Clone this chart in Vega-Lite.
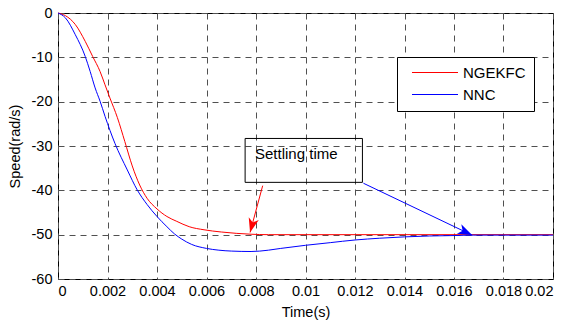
{
  "$schema": "https://vega.github.io/schema/vega-lite/v6.json",
  "width": 495,
  "height": 266,
  "autosize": "none",
  "padding": {"left": 58, "top": 13, "right": 15, "bottom": 43},
  "background": "white",
  "config": {
    "font": "Liberation Sans",
    "view": {"stroke": "black", "strokeWidth": 1},
    "axis": {
      "domain": false,
      "ticks": false,
      "grid": true,
      "gridColor": "#505050",
      "gridDash": [6, 5],
      "gridWidth": 1,
      "gridOpacity": 1,
      "labelFont": "Liberation Sans",
      "labelFontSize": 14.5,
      "labelColor": "black",
      "titleFont": "Liberation Sans",
      "titleFontSize": 14.5,
      "titleFontWeight": "normal",
      "titleColor": "black"
    }
  },
  "datasets": {
    "curves": [
      {"t": 0, "speed": 0, "series": "NGEKFC"},
      {"t": 0.0003, "speed": -0.6, "series": "NGEKFC"},
      {"t": 0.0007, "speed": -2.6, "series": "NGEKFC"},
      {"t": 0.0011, "speed": -6.4, "series": "NGEKFC"},
      {"t": 0.0014, "speed": -9.8, "series": "NGEKFC"},
      {"t": 0.0017, "speed": -13.2, "series": "NGEKFC"},
      {"t": 0.0019, "speed": -16.2, "series": "NGEKFC"},
      {"t": 0.0021, "speed": -19.2, "series": "NGEKFC"},
      {"t": 0.0024, "speed": -23.6, "series": "NGEKFC"},
      {"t": 0.0027, "speed": -29.0, "series": "NGEKFC"},
      {"t": 0.003, "speed": -34.5, "series": "NGEKFC"},
      {"t": 0.0033, "speed": -38.8, "series": "NGEKFC"},
      {"t": 0.0036, "speed": -41.8, "series": "NGEKFC"},
      {"t": 0.004, "speed": -44.2, "series": "NGEKFC"},
      {"t": 0.0044, "speed": -45.9, "series": "NGEKFC"},
      {"t": 0.0048, "speed": -47.0, "series": "NGEKFC"},
      {"t": 0.0053, "speed": -48.2, "series": "NGEKFC"},
      {"t": 0.0059, "speed": -48.9, "series": "NGEKFC"},
      {"t": 0.0066, "speed": -49.4, "series": "NGEKFC"},
      {"t": 0.0072, "speed": -49.7, "series": "NGEKFC"},
      {"t": 0.0078, "speed": -49.9, "series": "NGEKFC"},
      {"t": 0.0085, "speed": -50.0, "series": "NGEKFC"},
      {"t": 0.02, "speed": -50.0, "series": "NGEKFC"},
      {"t": 0, "speed": 0, "series": "NNC"},
      {"t": 0.0003, "speed": -1.1, "series": "NNC"},
      {"t": 0.0007, "speed": -4.9, "series": "NNC"},
      {"t": 0.0011, "speed": -9.8, "series": "NNC"},
      {"t": 0.0013, "speed": -13.2, "series": "NNC"},
      {"t": 0.0015, "speed": -16.9, "series": "NNC"},
      {"t": 0.0017, "speed": -19.9, "series": "NNC"},
      {"t": 0.0019, "speed": -23.3, "series": "NNC"},
      {"t": 0.0023, "speed": -29.4, "series": "NNC"},
      {"t": 0.0028, "speed": -35.4, "series": "NNC"},
      {"t": 0.0032, "speed": -39.9, "series": "NNC"},
      {"t": 0.0036, "speed": -43.2, "series": "NNC"},
      {"t": 0.004, "speed": -45.9, "series": "NNC"},
      {"t": 0.0044, "speed": -48.2, "series": "NNC"},
      {"t": 0.0047, "speed": -49.8, "series": "NNC"},
      {"t": 0.005, "speed": -51.0, "series": "NNC"},
      {"t": 0.0054, "speed": -52.2, "series": "NNC"},
      {"t": 0.006, "speed": -53.1, "series": "NNC"},
      {"t": 0.0065, "speed": -53.5, "series": "NNC"},
      {"t": 0.007, "speed": -53.7, "series": "NNC"},
      {"t": 0.0078, "speed": -53.8, "series": "NNC"},
      {"t": 0.0085, "speed": -53.5, "series": "NNC"},
      {"t": 0.009, "speed": -53.1, "series": "NNC"},
      {"t": 0.01, "speed": -52.4, "series": "NNC"},
      {"t": 0.011, "speed": -51.8, "series": "NNC"},
      {"t": 0.012, "speed": -51.2, "series": "NNC"},
      {"t": 0.013, "speed": -50.8, "series": "NNC"},
      {"t": 0.014, "speed": -50.5, "series": "NNC"},
      {"t": 0.015, "speed": -50.3, "series": "NNC"},
      {"t": 0.016, "speed": -50.2, "series": "NNC"},
      {"t": 0.0168, "speed": -50.1, "series": "NNC"},
      {"t": 0.02, "speed": -50.1, "series": "NNC"}
    ],
    "box": [
      {"t1": 0.00756, "t2": 0.0123, "s1": -28.3, "s2": -38.2, "label": "Settling time", "tl": 0.00796, "sl": -32.9}
    ],
    "arrows": [
      {"series": "NGEKFC", "t": 0.00827, "speed": -38.95, "t2": 0.00776, "speed2": -49.5},
      {"series": "NNC", "t": 0.01234, "speed": -38.4, "t2": 0.01673, "speed2": -50.1}
    ]
  },
  "layer": [
    {
      "data": {"name": "curves"},
      "mark": {"type": "line", "strokeWidth": 1, "interpolate": "monotone"},
      "encoding": {
        "x": {
          "field": "t", "type": "quantitative",
          "scale": {"domain": [0, 0.02], "nice": false, "zero": false},
          "axis": {
            "title": "Time(s)",
            "values": [0, 0.002, 0.004, 0.006, 0.008, 0.01, 0.012, 0.014, 0.016, 0.018, 0.02],
            "labelExpr": "'' + datum.value",
            "labelPadding": 5,
            "titleX": 247.5,
            "titleY": 33,
            "titleBaseline": "middle",
            "titleAlign": "center"
          }
        },
        "y": {
          "field": "speed", "type": "quantitative",
          "scale": {"domain": [-60, 0], "nice": false, "zero": false},
          "axis": {
            "title": "Speed(rad/s)",
            "values": [-60, -50, -40, -30, -20, -10, 0],
            "labelExpr": "'' + datum.value",
            "labelPadding": 6,
            "titleX": -43,
            "titleY": 133,
            "titleAngle": -90,
            "titleAlign": "center",
            "titleBaseline": "middle"
          }
        },
        "color": {
          "field": "series", "type": "nominal",
          "scale": {"domain": ["NGEKFC", "NNC"], "range": ["#ff0000", "#0000ff"]},
          "legend": {
            "title": null,
            "orient": "none",
            "legendX": 339,
            "legendY": 44,
            "symbolType": "M-0.17,0 L15.17,0",
            "symbolSize": 36,
            "symbolStrokeWidth": 1,
            "symbolFillColor": "transparent",
            "labelFont": "Liberation Sans",
            "labelFontSize": 15,
            "labelColor": "black",
            "labelOffset": 43,
            "padding": 8,
            "rowPadding": 6,
            "strokeColor": "black",
            "fillColor": "white",
            "cornerRadius": 0
          }
        },
        "detail": {"field": "series"}
      }
    },
    {
      "data": {"name": "box"},
      "mark": {"type": "rect", "fill": null, "fillOpacity": 0, "stroke": "black", "strokeWidth": 1},
      "encoding": {
        "x": {"field": "t1", "type": "quantitative"},
        "x2": {"field": "t2"},
        "y": {"field": "s1", "type": "quantitative"},
        "y2": {"field": "s2"}
      }
    },
    {
      "data": {"name": "box"},
      "mark": {"type": "text", "align": "left", "baseline": "alphabetic", "fontSize": 15, "font": "Liberation Sans", "color": "black"},
      "encoding": {
        "x": {"field": "tl", "type": "quantitative"},
        "y": {"field": "sl", "type": "quantitative"},
        "text": {"field": "label"}
      }
    },
    {
      "data": {"name": "arrows"},
      "transform": [{"filter": "datum.series === 'NGEKFC'"}],
      "mark": {"type": "rule", "color": "#ff0000", "strokeWidth": 1},
      "encoding": {
        "x": {"field": "t", "type": "quantitative"},
        "y": {"field": "speed", "type": "quantitative"},
        "x2": {"field": "t2"},
        "y2": {"field": "speed2"}
      }
    },
    {
      "data": {"name": "arrows"},
      "transform": [{"filter": "datum.series === 'NNC'"}],
      "mark": {"type": "rule", "color": "#0000ff", "strokeWidth": 1},
      "encoding": {
        "x": {"field": "t", "type": "quantitative"},
        "y": {"field": "speed", "type": "quantitative"},
        "x2": {"field": "t2"},
        "y2": {"field": "speed2"}
      }
    },
    {
      "data": {"name": "arrows"},
      "transform": [{"filter": "datum.series === 'NGEKFC'"}],
      "mark": {"type": "point", "filled": true, "color": "#ff0000", "opacity": 1, "size": 676, "angle": 195, "shape": "M0,0 L-0.4,1.1 L0,0.8 L0.4,1.1 Z"},
      "encoding": {
        "x": {"field": "t2", "type": "quantitative"},
        "y": {"field": "speed2", "type": "quantitative"}
      }
    },
    {
      "data": {"name": "arrows"},
      "transform": [{"filter": "datum.series === 'NNC'"}],
      "mark": {"type": "point", "filled": true, "color": "#0000ff", "opacity": 1, "size": 676, "angle": 115, "shape": "M0,0 L-0.4,1.1 L0,0.8 L0.4,1.1 Z"},
      "encoding": {
        "x": {"field": "t2", "type": "quantitative"},
        "y": {"field": "speed2", "type": "quantitative"}
      }
    }
  ]
}
